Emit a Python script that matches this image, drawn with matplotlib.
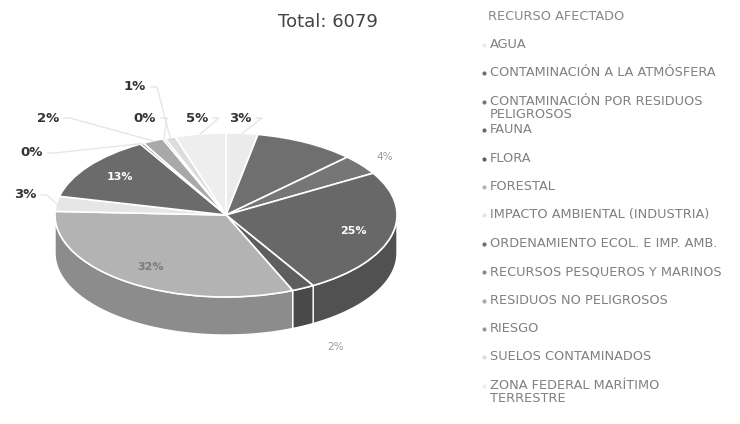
import matplotlib
matplotlib.use("Agg")
import matplotlib.pyplot as plt
import numpy as np
from matplotlib.patches import Wedge, Polygon
from matplotlib.transforms import Affine2D

# --- data (counts per affected resource, total 6079) ---
categories = [
    "AGUA",
    "CONTAMINACIÓN A LA ATMÓSFERA",
    "CONTAMINACIÓN POR RESIDUOS\nPELIGROSOS",
    "FAUNA",
    "FLORA",
    "FORESTAL",
    "IMPACTO AMBIENTAL (INDUSTRIA)",
    "ORDENAMIENTO ECOL. E IMP. AMB.",
    "RECURSOS PESQUEROS Y MARINOS",
    "RESIDUOS NO PELIGROSOS",
    "RIESGO",
    "SUELOS CONTAMINADOS",
    "ZONA FEDERAL MARÍTIMO\nTERRESTRE",
]
counts = [182, 580, 240, 1520, 130, 1950, 180, 790, 20, 120, 15, 60, 292]
colors = ["#ebebeb", "#6f6f6f", "#767676", "#686868", "#5e5e5e", "#b3b3b3",
          "#e6e6e6", "#6b6b6b", "#8a8a8a", "#a9a9a9", "#9a9a9a", "#dcdcdc", "#eeeeee"]

# label layout: None = inside label, "hide" = no label, (x, y) = outside position in px
label_layout = [(240, 118), "hide", (385, 157), None, (335, 347), None,
                (25, 195), None, (32, 153), (48, 118), (145, 118), (135, 87), (197, 118)]

# --- pie geometry (pixel space) ---
cx, cy, rx, ry, depth = 226, 215, 171, 82, 38

fig = plt.figure(figsize=(7.4, 4.24), dpi=100)
ax = fig.add_axes([0, 0, 1, 1])
ax.set_xlim(0, 740)
ax.set_ylim(424, 0)
ax.axis("off")

total = sum(counts)
frac = np.array(counts) / total
cum = np.concatenate([[0], np.cumsum(frac)])
theta_start = 90 - cum[:-1] * 360   # clockwise from 12 o'clock
theta_end = 90 - cum[1:] * 360

ell = Affine2D().scale(rx, -ry).translate(cx, cy) + ax.transData


def rim(theta, r=1.0, dy=0.0):
    t = np.radians(theta)
    return cx + r * rx * np.cos(t), cy - r * ry * np.sin(t) + dy


def darker(c, f=0.78):
    rgb = np.array(matplotlib.colors.to_rgb(c)) * f
    return tuple(rgb)


# side walls (front half only: theta in [-180, 0])
for i in range(len(counts)):
    a1, a2 = max(theta_end[i], -180), min(theta_start[i], 0)
    if a2 <= a1:
        continue
    t = np.linspace(a1, a2, 60)
    xt, yt = rim(t)
    xb, yb = rim(t[::-1], dy=depth)
    pts = np.column_stack([np.concatenate([xt, xb]), np.concatenate([yt, yb])])
    ax.add_patch(Polygon(pts, closed=True, facecolor=darker(colors[i]),
                         edgecolor="white", linewidth=1.0, zorder=1))

# top faces
for i in range(len(counts)):
    ax.add_patch(Wedge((0, 0), 1, theta_end[i], theta_start[i], facecolor=colors[i],
                       edgecolor="white", linewidth=1.2, transform=ell, zorder=2))

# labels
for i, pos in enumerate(label_layout):
    if pos == "hide":
        continue
    pct = f"{round(frac[i] * 100)}%"
    mid = (theta_start[i] + theta_end[i]) / 2
    if pos is None:
        x, y = rim(mid, r=0.77)
        tc = "#7a7a7a" if colors[i] > "#a0a0a0" else "white"
        ax.text(x, y, pct, ha="center", va="center", fontsize=8, fontweight="bold",
                color=tc, zorder=5)
        continue
    lx, ly = pos
    px, py = rim(mid)
    if py > cy:
        py += depth
    faint = i in (2, 4)
    ax.text(lx, ly, pct, ha="center", va="center", fontsize=7.5 if faint else 9.5,
            fontweight="normal" if faint else "bold",
            color="#9a9a9a" if faint else "#333333", zorder=5)
    if not faint:
        sx = lx + 16 if px > lx else lx - 16
        ax.plot([sx, sx + (6 if px > lx else -6), px], [ly, ly, py],
                color="#e6e6e6", linewidth=1, zorder=3)

# title
ax.text(328, 22, "Total: 6079", ha="center", va="center", fontsize=13, color="#444444")

# legend
lg_x, lg_y0, lg_step = 490, 45, 28.4
ax.text(lg_x - 2, 16, "RECURSO AFECTADO", ha="left", va="center", fontsize=9.3,
        color="#888888")
for i, name in enumerate(categories):
    y = lg_y0 + i * lg_step
    ax.plot(lg_x - 6, y, marker="o", markersize=3, color=colors[i],
            markeredgewidth=0, zorder=4)
    ax.text(lg_x, y - 7, name, ha="left", va="top", fontsize=9.3, color="#808080",
            linespacing=1.0)

fig.savefig("out.png", dpi=100)
